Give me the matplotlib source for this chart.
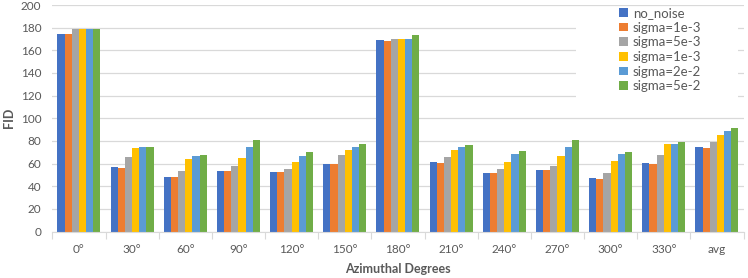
import numpy as np
import matplotlib.pyplot as plt
from matplotlib.patches import Rectangle

plt.rcParams['font.family'] = ['Lato', 'DejaVu Sans']

# categorie e valori
angles = ["0°", "30°", "60°", "90°", "120°", "150°", "180°", "210°", "240°", "270°", "300°", "330°", "avg"]
series_names = ["no_noise", "sigma=1e-3", "sigma=5e-3", "sigma=1e-3", "sigma=2e-2", "sigma=5e-2"]

no_noise  = [174.5, 56.9, 47.8, 53.7, 52.8, 59.9, 169.0, 61.1, 51.9, 54.3, 46.9, 60.2, 74.3]
sig_1e3   = [174.0, 56.3, 47.8, 53.7, 52.8, 59.9, 168.4, 60.5, 51.6, 54.3, 46.6, 59.6, 74.0]
sig_5e3   = [178.5, 65.5, 53.1, 57.8, 55.2, 67.6, 169.6, 65.8, 55.2, 58.1, 51.9, 67.8, 78.8]
sig_1e3b  = [178.5, 74.0, 64.0, 64.9, 61.4, 72.0, 170.2, 72.3, 61.7, 66.4, 62.2, 77.0, 85.5]
sig_2e2   = [178.5, 74.9, 67.0, 74.3, 66.7, 74.6, 170.2, 74.6, 68.1, 74.9, 68.1, 77.0, 89.1]
sig_5e2   = [178.8, 74.6, 67.6, 80.8, 69.9, 77.3, 173.2, 76.4, 71.4, 80.5, 70.5, 79.1, 91.7]

all_series = [no_noise, sig_1e3, sig_5e3, sig_1e3b, sig_2e2, sig_5e2]
colors = ["#4472C4", "#ED7D31", "#A5A5A5", "#FFC000", "#5B9BD5", "#70AD47"]

txt = "#595959"
fig = plt.figure(figsize=(7.48, 2.78), dpi=100)
ax = fig.add_axes([0.070, 0.167, 0.924, 0.815])

x = np.arange(len(angles))
w = 0.135
for i, (vals, c, name) in enumerate(zip(all_series, colors, series_names)):
    ax.bar(x + (i - 2.5) * w, vals, width=w, color=c, label=name, zorder=2)

ax.set_xlim(-0.5, len(angles) - 0.5)
ax.set_ylim(0, 200)
ax.set_yticks(range(0, 201, 20))
ax.grid(axis="y", color="#d9d9d9", linewidth=0.9, zorder=0)
ax.set_axisbelow(True)

for s in ["top", "right", "left"]:
    ax.spines[s].set_visible(False)
ax.spines["bottom"].set_color("#d9d9d9")

ax.set_xticks(np.arange(-0.5, len(angles), 1), minor=False)
ax.set_xticklabels([])
ax.tick_params(axis="x", which="major", length=5, color="#d9d9d9")
ax.set_xticks(x, minor=True)
ax.set_xticklabels(angles, minor=True)
ax.tick_params(axis="x", which="minor", length=0, pad=9, labelsize=8.5, labelcolor=txt)
ax.tick_params(axis="y", length=0, pad=8, labelsize=8.5, labelcolor=txt)

ax.set_xlabel("Azimuthal Degrees", fontsize=9, fontweight="bold", color=txt, labelpad=6)
ax.set_ylabel("FID", fontsize=9, fontweight="bold", color=txt, labelpad=4)

# sfondo bianco della legenda (copre la griglia)
ax.add_patch(Rectangle((576 / 748, 1 - 100 / 278), 162 / 748, 92 / 278,
                       transform=fig.transFigure, facecolor="white",
                       edgecolor="none", zorder=1))

leg = ax.legend(loc="upper left", bbox_to_anchor=(619 / 748, 1 - 7 / 278),
                bbox_transform=fig.transFigure, frameon=False,
                handlelength=0.65, handleheight=0.65, handletextpad=0.4,
                labelspacing=0.2, borderpad=0, borderaxespad=0,
                fontsize=9.5, labelcolor=txt)
leg.set_zorder(5)

fig.savefig("out.png", dpi=100)
